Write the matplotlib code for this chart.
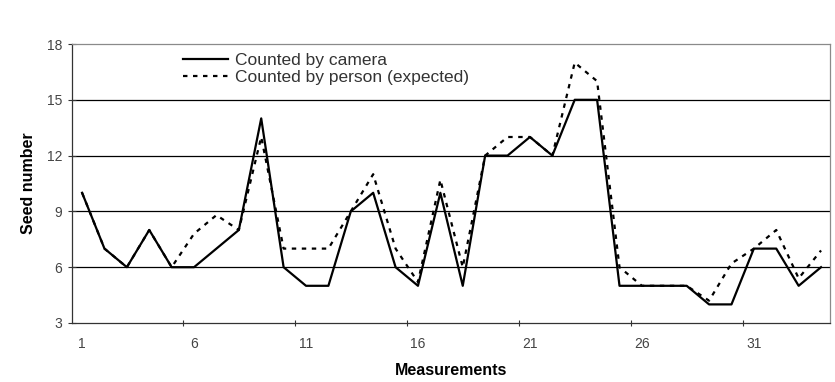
import numpy as np
import matplotlib.pyplot as plt

# measurement index 1..34
measurements = list(range(1, 35))

counted_by_camera = [10, 7, 6, 8, 6, 6, 7, 8, 14, 6,
                     5, 5, 9, 10, 6, 5, 10, 5, 12, 12,
                     13, 12, 15, 15, 5, 5, 5, 5, 4, 4,
                     7, 7, 5, 6]

counted_by_person = [10, 7, 6, 8, 6, 7.8, 8.8, 8, 13, 7,
                     7, 7, 9, 11, 7, 5.2, 10.7, 6, 12, 13,
                     13, 12, 17, 16, 6, 5, 5, 5, 4.2, 6.2,
                     7, 8, 5.4, 6.9]

x_labels = [1, 6, 11, 16, 21, 26, 31]
y_ticks = [3, 6, 9, 12, 15, 18]

narrow = ['Liberation Sans Narrow', 'Liberation Sans', 'DejaVu Sans']
plt.rcParams['font.family'] = ['Liberation Sans', 'DejaVu Sans']

fig = plt.figure(figsize=(8.35, 3.82), dpi=100)
ax = fig.add_axes([72 / 835, (382 - 323) / 382, (830 - 72) / 835, (323 - 44) / 382])

# horizontal gridlines (black, like the original excel chart)
for y in y_ticks[1:-1]:
    ax.axhline(y, color='black', linewidth=0.9, zorder=1)

ax.plot(measurements, counted_by_camera, color='black', linewidth=1.6,
        label='Counted by camera', zorder=3)
ax.plot(measurements, counted_by_person, color='black', linewidth=1.6,
        linestyle=(0, (2, 2.5)), label='Counted by person (expected)', zorder=2)

ax.set_xlim(0.55, 34.4)
ax.set_ylim(3, 18)

# ticks sit between categories, labels on categories
ax.set_xticks([5.5, 10.5, 15.5, 20.5, 25.5, 30.5])
ax.set_xticklabels([])
ax.set_xticks(x_labels, minor=True)
ax.set_xticklabels([str(v) for v in x_labels], minor=True, family=narrow,
                   fontsize=10, color='#444444')
ax.tick_params(axis='x', which='minor', length=0, pad=10)
ax.tick_params(axis='x', which='major', direction='inout', length=5, width=0.8,
               color='#333333')

ax.set_yticks(y_ticks)
ax.set_yticklabels([str(v) for v in y_ticks], family=narrow, fontsize=10,
                   color='#444444')
ax.tick_params(axis='y', direction='inout', length=6, width=0.8, color='#333333',
               pad=4)

for side in ['left', 'bottom']:
    ax.spines[side].set_color('#333333')
    ax.spines[side].set_linewidth(0.9)
for side in ['top', 'right']:
    ax.spines[side].set_color('#8a8a8a')
    ax.spines[side].set_linewidth(0.9)

ax.set_xlabel('Measurements', fontsize=11.5, fontweight='bold', labelpad=9)
ax.set_ylabel('Seed number', fontsize=11.5, fontweight='bold', labelpad=8)

leg = ax.legend(loc='upper left', bbox_to_anchor=(0.146, 0.968), frameon=False,
                fontsize=12.5, handlelength=2.6, handletextpad=0.4,
                labelspacing=0.12, borderpad=0, borderaxespad=0)
for t in leg.get_texts():
    t.set_color('#333333')

fig.savefig('out.png', dpi=100)
